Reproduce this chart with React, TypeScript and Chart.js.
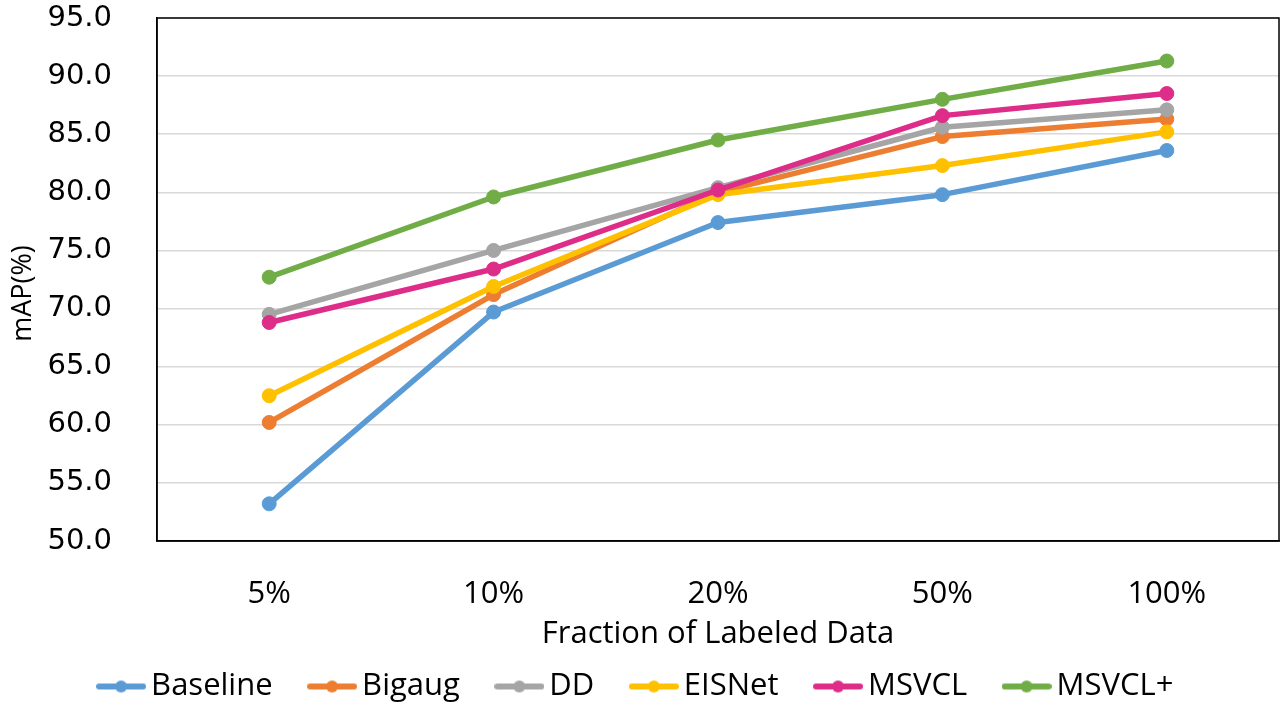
import React, { useEffect, useRef } from "react";
import { Chart, registerables } from "chart.js";

Chart.register(...registerables);

const categories = ["5%", "10%", "20%", "50%", "100%"];
const seriesNames = ["Baseline", "Bigaug", "DD", "EISNet", "MSVCL", "MSVCL+"];
const baseline = [53.2, 69.7, 77.4, 79.8, 83.6];
const bigaug = [60.2, 71.2, 80.0, 84.8, 86.3];
const dd = [69.5, 75.0, 80.4, 85.6, 87.1];
const eisnet = [62.5, 71.9, 79.8, 82.3, 85.2];
const msvcl = [68.8, 73.4, 80.2, 86.6, 88.5];
const msvclPlus = [72.7, 79.6, 84.5, 88.0, 91.3];
const seriesColors = ["#5B9BD5", "#ED7D31", "#A5A5A5", "#FFC000", "#DE2D89", "#70AD47"];
const yMin = 50;
const yMax = 95;
const yStep = 5;
const xTitle = "Fraction of Labeled Data";
const yTitle = "mAP(%)";

const LABEL_FONT = '"Open Sans", sans-serif';

function makeLegendIcon(color: string): HTMLCanvasElement {
  const c = document.createElement("canvas");
  c.width = 50;
  c.height = 14;
  const ctx = c.getContext("2d")!;
  ctx.strokeStyle = color;
  ctx.lineWidth = 6;
  ctx.lineCap = "round";
  ctx.beginPath();
  ctx.moveTo(3, 7);
  ctx.lineTo(47, 7);
  ctx.stroke();
  ctx.fillStyle = color;
  ctx.beginPath();
  ctx.arc(25, 7, 6, 0, Math.PI * 2);
  ctx.fill();
  return c;
}

export default function App() {
  const ref = useRef<HTMLCanvasElement | null>(null);

  useEffect(() => {
    if (!ref.current) return;
    const allData = [baseline, bigaug, dd, eisnet, msvcl, msvclPlus];
    const icons = seriesColors.map(makeLegendIcon);
    const n = allData.length;

    const frame = {
      id: "frame",
      beforeDatasetsDraw(chart: any) {
        const { ctx, chartArea } = chart;
        ctx.save();
        ctx.strokeStyle = "#000";
        ctx.lineWidth = 1.5;
        ctx.strokeRect(chartArea.left, chartArea.top, chartArea.right - chartArea.left, chartArea.bottom - chartArea.top);
        ctx.restore();
      },
      afterDraw(chart: any) {
        const { ctx, chartArea } = chart;
        ctx.save();
        ctx.translate(23, (chartArea.top + chartArea.bottom) / 2 + 14);
        ctx.rotate(-Math.PI / 2);
        ctx.font = '27px "Open Sans", sans-serif';
        ctx.fillStyle = "#000";
        ctx.textAlign = "center";
        ctx.textBaseline = "middle";
        ctx.fillText(yTitle, 0, 0);
        ctx.restore();
      },
    };

    const defaultGen = (Chart.defaults as any).plugins.legend.labels.generateLabels;

    const chart = new Chart(ref.current, {
      type: "line",
      data: {
        labels: categories,
        datasets: allData.map((d, i) => ({
          label: seriesNames[i],
          data: d,
          borderColor: seriesColors[i],
          backgroundColor: seriesColors[i],
          pointBackgroundColor: seriesColors[i],
          pointBorderColor: seriesColors[i],
          pointBorderWidth: 1,
          pointRadius: 7,
          borderWidth: 5.5,
          borderCapStyle: "round",
          borderJoinStyle: "round",
          tension: 0,
          order: n - i,
        })),
      },
      options: {
        animation: false,
        responsive: false,
        color: "#000",
        layout: { padding: { top: 18, right: 7, left: 0, bottom: -4 } },
        plugins: {
          tooltip: { enabled: false },
          legend: {
            position: "bottom",
            labels: {
              usePointStyle: true,
              pointStyleWidth: 29,
              padding: 45,
              color: "#000",
              font: { family: LABEL_FONT, size: 31 },
              generateLabels: (chart: any) =>
                defaultGen(chart)
                  .map((it: any) => ({ ...it, pointStyle: icons[it.datasetIndex] }))
                  .sort((a: any, b: any) => a.datasetIndex - b.datasetIndex),
            },
          },
        },
        scales: {
          x: {
            type: "category",
            offset: true,
            grid: { display: false, drawTicks: false },
            border: { display: true, color: "#000", width: 1.5 },
            ticks: {
              color: "#000",
              padding: 35,
              font: { family: LABEL_FONT, size: 31 },
            },
            title: {
              display: true,
              text: xTitle,
              color: "#000",
              font: { family: LABEL_FONT, size: 31 },
              padding: { top: 0, bottom: -26.6 },
            },
            afterFit: (scale: any) => {
              scale.height = 85;
            },
          },
          y: {
            min: yMin,
            max: yMax,
            grid: {
              color: "#D9D9D9",
              lineWidth: 1.5,
              drawTicks: true,
              tickLength: 45,
              tickColor: "rgba(0,0,0,0)",
            },
            border: { display: true, color: "#000", width: 1.5 },
            ticks: {
              stepSize: yStep,
              padding: 0,
              color: "#000",
              font: { family: '"DejaVu Sans", sans-serif', size: 29 },
              callback: (v: any) => Number(v).toFixed(1),
            },
            afterFit: (scale: any) => {
              scale.width = 157;
            },
          },
        },
      },
      plugins: [frame],
    } as any);

    return () => chart.destroy();
  }, []);

  return (
    <div style={{ position: "absolute", left: 0, top: 0, width: 1287, height: 708, background: "#fff" }}>
      <canvas ref={ref} width={1287} height={708} style={{ width: 1287, height: 708, display: "block" }} />
    </div>
  );
}
